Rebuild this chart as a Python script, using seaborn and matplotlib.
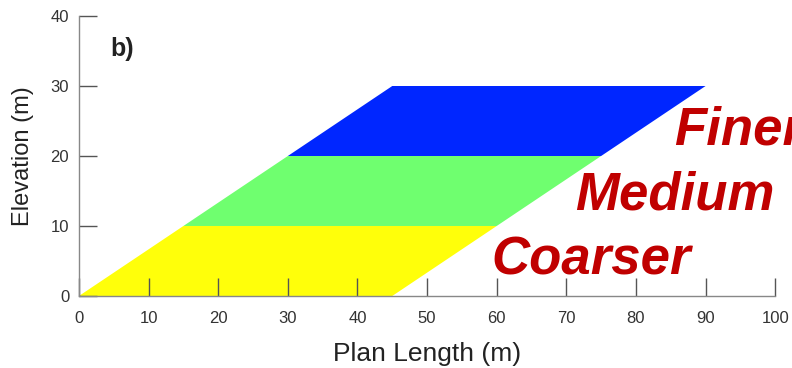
import matplotlib
matplotlib.use("Agg")
import matplotlib.pyplot as plt
import seaborn as sns

# Layer geometry: each layer is a parallelogram sloping 15 m per 10 m of height
layers = ["Coarser", "Medium", "Finer"]
layer_bottom = [0, 10, 20]
layer_top = [10, 20, 30]
left_bottom = [0, 15, 30]
left_top = [15, 30, 45]
right_bottom = [45, 60, 75]
right_top = [60, 75, 90]
layer_colors = ["#FFFF0A", "#6FFF6F", "#0026FF"]

# Label anchors (left edge, baseline) for each layer name
label_x = [59.2, 71.3, 85.5]
label_y = [3.0, 12.3, 21.6]

x_ticks = [0, 10, 20, 30, 40, 50, 60, 70, 80, 90, 100]
y_ticks = [0, 10, 20, 30, 40]

sns.set_theme(style="white")
plt.rcParams["font.family"] = ["Liberation Sans", "DejaVu Sans"]

fig = plt.figure(figsize=(7.92, 3.68), dpi=100)
ax = fig.add_axes([0.0997, 0.1957, 0.9788 - 0.0997, 0.9565 - 0.1957])

for i, name in enumerate(layers):
    xs = [left_bottom[i], right_bottom[i], right_top[i], left_top[i]]
    ys = [layer_bottom[i], layer_bottom[i], layer_top[i], layer_top[i]]
    ax.fill(xs, ys, color=layer_colors[i], lw=0, zorder=1)
    ax.text(label_x[i], label_y[i], name, color="#C00000", fontsize=38,
            fontweight="bold", fontstyle="italic", ha="left", va="baseline",
            clip_on=False, zorder=5)

ax.set_xlim(0, 100)
ax.set_ylim(0, 40)
ax.set_xticks(x_ticks)
ax.set_yticks(y_ticks)
ax.tick_params(axis="both", which="major", bottom=True, left=True,
               direction="in", length=13, width=1.0,
               color="#555555", labelsize=12, labelcolor="#333333", pad=7)
ax.tick_params(axis="x", pad=10.5)
for side in ("top", "right"):
    ax.spines[side].set_visible(False)
for side in ("left", "bottom"):
    ax.spines[side].set_color("#888888")
    ax.spines[side].set_linewidth(1.0)
    ax.spines[side].set_zorder(3)
ax.set_axisbelow(False)

ax.set_xlabel("Plan Length (m)", fontsize=19, color="#222222", labelpad=12)
ax.set_ylabel("Elevation (m)", fontsize=17, color="#222222", labelpad=12)

ax.text(4.5, 35.3, "b)", fontsize=18, fontweight="bold", color="#222222",
        ha="left", va="center")

fig.savefig("out.png", dpi=100)
